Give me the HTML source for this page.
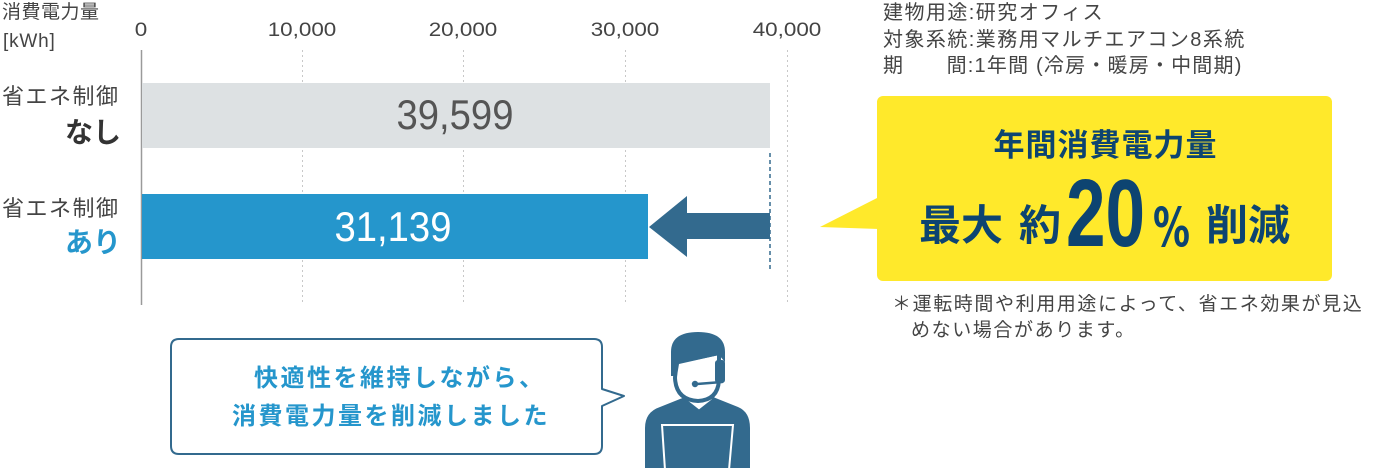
<!DOCTYPE html>
<html><head><meta charset="utf-8">
<style>
html,body{margin:0;padding:0;background:#fff;}
body{width:1384px;height:468px;position:relative;overflow:hidden;font-family:"Liberation Sans","Noto Sans CJK JP",sans-serif;}
.t{position:absolute;white-space:nowrap;line-height:1;}
svg{position:absolute;left:0;top:0;}
.ax{position:absolute;white-space:nowrap;line-height:1;width:100px;text-align:center;top:21px;font-size:19px;color:#444;transform:scaleX(1.18);}
</style></head><body>
<svg width="1384" height="468" viewBox="0 0 1384 468">
  <g stroke="#c8c8c8" stroke-width="1" stroke-dasharray="2 3">
    <line x1="302.5" y1="50" x2="302.5" y2="305"/>
    <line x1="463.5" y1="50" x2="463.5" y2="305"/>
    <line x1="625.5" y1="50" x2="625.5" y2="305"/>
    <line x1="787.5" y1="50" x2="787.5" y2="305"/>
  </g>
  <line x1="141.5" y1="50" x2="141.5" y2="305" stroke="#9a9a9a" stroke-width="1.5"/>
  <rect x="142" y="83" width="628" height="65" fill="#dde1e3"/>
  <rect x="142" y="194" width="506" height="65" fill="#2596cc"/>
  <line x1="770" y1="153" x2="770" y2="270" stroke="#336a8e" stroke-width="1.5" stroke-dasharray="4 3"/>
  <polygon points="649,227 687,196 687,213 770,213 770,239 687,239 687,257" fill="#336a8e"/>
  <rect x="877" y="96" width="455" height="185" rx="6" ry="6" fill="#ffe92b"/>
  <polygon points="879,197 820,227 879,229" fill="#ffe92b"/>
  <text x="1153" y="246" font-family="DejaVu Sans, sans-serif" font-weight="bold" font-size="54" fill="#0d4471" textLength="37" lengthAdjust="spacingAndGlyphs">%</text>
  <path d="M179,339 L594,339 Q602,339 602,347 L602,389 L624,396 L602,406 L602,446 Q602,454 594,454 L179,454 Q171,454 171,446 L171,347 Q171,339 179,339 Z" fill="#fff" stroke="#336a8e" stroke-width="2" stroke-linejoin="round"/>
  <g>
    <path d="M645,468 L645,428 Q645,412 660,407 L685,397 L699,411 L713,397 L738,407 Q750,412 750,428 L750,468 Z" fill="#336a8e"/>
    <path d="M685,388 L713,388 L713,400 L699,411 L685,400 Z" fill="#fff" stroke="#336a8e" stroke-width="2.5" stroke-linejoin="round"/>
    <path d="M676,362 L719,353 L719,378 Q719,400 698,401 Q676,400 675,378 Z" fill="#fff" stroke="#336a8e" stroke-width="4" stroke-linejoin="round"/>
    <path d="M671,376 L671,352 Q671,332 698,332 Q725,332 725,352 L725,362 L719,355 L679,364 L677,376 Z" fill="#336a8e"/>
    <rect x="715" y="360" width="10" height="23" rx="3" fill="#336a8e"/>
    <line x1="722" y1="382" x2="697" y2="384" stroke="#336a8e" stroke-width="2.5" stroke-linecap="round"/>
    <circle cx="695" cy="384" r="3.2" fill="#336a8e"/>
    <polygon points="662,425 733,425 729,470 665,470" fill="#336a8e" stroke="#fff" stroke-width="2"/>
  </g>
</svg>

<div class="t" style="left:2px;top:3px;font-size:19px;letter-spacing:0.5px;color:#444;">消費電力量</div>
<div class="t" style="left:3px;top:32px;font-size:19px;letter-spacing:0.8px;color:#444;">[kWh]</div>

<div class="ax" style="left:91px;">0</div>
<div class="ax" style="left:252px;">10,000</div>
<div class="ax" style="left:413px;">20,000</div>
<div class="ax" style="left:575px;">30,000</div>
<div class="ax" style="left:737px;">40,000</div>

<div class="t" style="left:2px;top:86px;font-size:22px;letter-spacing:1.5px;color:#444;">省エネ制御</div>
<div class="t" style="left:20px;width:101px;text-align:right;top:119px;font-size:28px;font-weight:bold;color:#333;">なし</div>
<div class="t" style="left:2px;top:198px;font-size:22px;letter-spacing:1.5px;color:#444;">省エネ制御</div>
<div class="t" style="left:20px;width:101px;text-align:right;top:229px;font-size:28px;font-weight:bold;color:#2596cc;">あり</div>

<div class="t" style="left:355px;width:200px;text-align:center;top:94px;font-size:42px;color:#555;transform:scaleX(0.91);">39,599</div>
<div class="t" style="left:293px;width:200px;text-align:center;top:206px;font-size:42px;color:#fff;transform:scaleX(0.91);">31,139</div>

<div class="t" style="left:883px;top:3px;font-size:20px;letter-spacing:1.45px;color:#444;">建物用途:研究オフィス</div>
<div class="t" style="left:883px;top:30px;font-size:20px;letter-spacing:1.45px;color:#444;">対象系統:業務用マルチエアコン8系統</div>
<div class="t" style="left:883px;top:56px;font-size:20px;letter-spacing:1.2px;color:#444;">期　　間:1年間 (冷房・暖房・中間期)</div>

<div class="t" style="left:990px;width:230px;text-align:center;top:130px;font-size:31px;font-weight:bold;letter-spacing:1px;text-indent:1px;color:#0d4471;">年間消費電力量</div>
<div class="t" style="left:919px;top:205px;font-size:42px;font-weight:bold;color:#0d4471;">最大</div>
<div class="t" style="left:1019px;top:205px;font-size:42px;font-weight:bold;color:#0d4471;">約</div>
<div class="t" style="left:1066px;top:166px;font-size:96px;font-weight:bold;color:#0d4471;transform:scaleX(0.74);transform-origin:0 0;">20</div>
<div class="t" style="left:1206px;top:205px;font-size:42px;font-weight:bold;color:#0d4471;">削減</div>

<div class="t" style="left:892px;top:295px;font-size:19px;letter-spacing:1.6px;color:#444;">＊運転時間や利用用途によって、省エネ効果が見込</div>
<div class="t" style="left:911px;top:321px;font-size:19px;letter-spacing:1.6px;color:#444;">めない場合があります。</div>

<div class="t" style="left:254px;top:367px;font-size:24px;font-weight:bold;letter-spacing:2.5px;color:#2596cc;">快適性を維持しながら、</div>
<div class="t" style="left:232px;top:405px;font-size:24px;font-weight:bold;letter-spacing:2.5px;color:#2596cc;">消費電力量を削減しました</div>
</body></html>
